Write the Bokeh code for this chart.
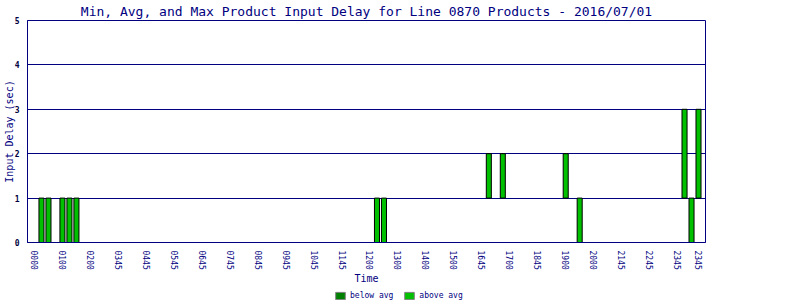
from bokeh.plotting import figure
from bokeh.layouts import column
from bokeh.models import FixedTicker, Legend, LegendItem, ColumnDataSource
from bokeh.embed import file_html
from bokeh.resources import INLINE

# ---- data ----
title_text = "Min, Avg, and Max Product Input Delay for Line 0870 Products - 2016/07/01"
n_slots = 96
tick_labels = ["0000", "0100", "0200", "0345", "0445", "0545", "0645", "0745",
               "0845", "0945", "1045", "1145", "1200", "1300", "1400", "1500",
               "1645", "1700", "1845", "1900", "2000", "2145", "2245", "2345",
               "2345"]
tick_slots = list(range(1, n_slots + 1, 4)) + [n_slots]

bar_slot = [2, 3, 5, 6, 7, 50, 51, 66, 68, 77, 79, 94, 95, 96]
bar_min = [0, 0, 0, 0, 0, 0, 0, 1, 1, 1, 0, 1, 0, 1]
bar_max = [1, 1, 1, 1, 1, 1, 1, 2, 2, 2, 1, 3, 1, 3]
bar_kind = ["above"] * 14

legend_kinds = ["below", "above"]
legend_labels = ["below avg", "above avg"]

y_ticks = [0, 1, 2, 3, 4, 5]

NAVY = "#000080"
FONT = "DejaVu Sans Mono"
COL = {"below": "#008000", "above": "#00c000"}

p = figure(width=800, height=288, x_range=(0, n_slots + 1), y_range=(0, 5),
           output_backend="svg", toolbar_location=None,
           min_border_left=27, min_border_right=95,
           min_border_top=20, min_border_bottom=46)

p.title.text = title_text
p.title.align = "center"
p.title.text_font = FONT
p.title.text_font_size = "13px"
p.title.text_font_style = "normal"
p.title.text_color = NAVY
p.title.standoff = 3

p.outline_line_color = NAVY
p.xgrid.grid_line_color = None
p.ygrid.grid_line_color = NAVY
p.ygrid.ticker = FixedTicker(ticks=y_ticks)

for kind in legend_kinds:
    idx = [i for i, k in enumerate(bar_kind) if k == kind]
    src = ColumnDataSource(dict(x=[bar_slot[i] for i in idx],
                                bottom=[bar_min[i] for i in idx],
                                top=[bar_max[i] for i in idx]))
    p.vbar(x="x", bottom="bottom", top="top", width=0.72, source=src,
           fill_color=COL[kind], line_color="black", line_width=1)

# x axis
xa = p.xaxis[0]
xa.ticker = FixedTicker(ticks=tick_slots)
xa.major_label_overrides = {s: l for s, l in zip(tick_slots, tick_labels)}
xa.major_label_orientation = "vertical"
xa.major_label_text_font = FONT
xa.major_label_text_font_size = "8px"
xa.major_label_text_color = NAVY
xa.major_label_standoff = 2
xa.major_tick_line_color = None
xa.minor_tick_line_color = None
xa.axis_line_color = NAVY
xa.axis_label = "Time"
xa.axis_label_text_font = FONT
xa.axis_label_text_font_size = "10px"
xa.axis_label_text_font_style = "normal"
xa.axis_label_text_color = NAVY
xa.axis_label_standoff = 0

# y axis
ya = p.yaxis[0]
ya.ticker = FixedTicker(ticks=y_ticks)
ya.major_label_text_font = FONT
ya.major_label_text_font_size = "8px"
ya.major_label_text_font_style = "bold"
ya.major_label_text_color = "#000040"
ya.major_label_standoff = 2
ya.major_tick_line_color = None
ya.minor_tick_line_color = None
ya.axis_line_color = NAVY
ya.axis_label = "Input Delay (sec)"
ya.axis_label_text_font = FONT
ya.axis_label_text_font_size = "10px"
ya.axis_label_text_font_style = "normal"
ya.axis_label_text_color = NAVY
ya.axis_label_standoff = -3

# ---- legend strip below the chart ----
lg = figure(width=800, height=12, x_range=(0, 1), y_range=(0, 1),
            output_backend="svg", toolbar_location=None,
            x_axis_location=None, y_axis_location=None, min_border=0)
lg.outline_line_color = None
lg.grid.grid_line_color = None
lg.background_fill_color = None
lg.border_fill_color = None
items = []
for kind, lab in zip(legend_kinds, legend_labels):
    # proxy glyph outside the visible range, only used for the legend swatch
    r = lg.vbar(x=[0.5], bottom=[-3], top=[-2], width=0.1,
                fill_color=COL[kind], line_color="#808080", line_width=1)
    items.append(LegendItem(label=lab, renderers=[r]))

legend = Legend(items=items, orientation="horizontal", location=(307, 0))
legend.margin = 0
legend.padding = 0
legend.spacing = 10
legend.glyph_width = 12
legend.glyph_height = 9
legend.label_height = 9
legend.label_standoff = 4
legend.label_text_font = FONT
legend.label_text_font_size = "8px"
legend.label_text_color = NAVY
legend.border_line_alpha = 0
legend.background_fill_alpha = 0
lg.add_layout(legend, "center")

layout = column(p, lg, spacing=0)
open("out.html", "w").write(file_html(layout, INLINE))
